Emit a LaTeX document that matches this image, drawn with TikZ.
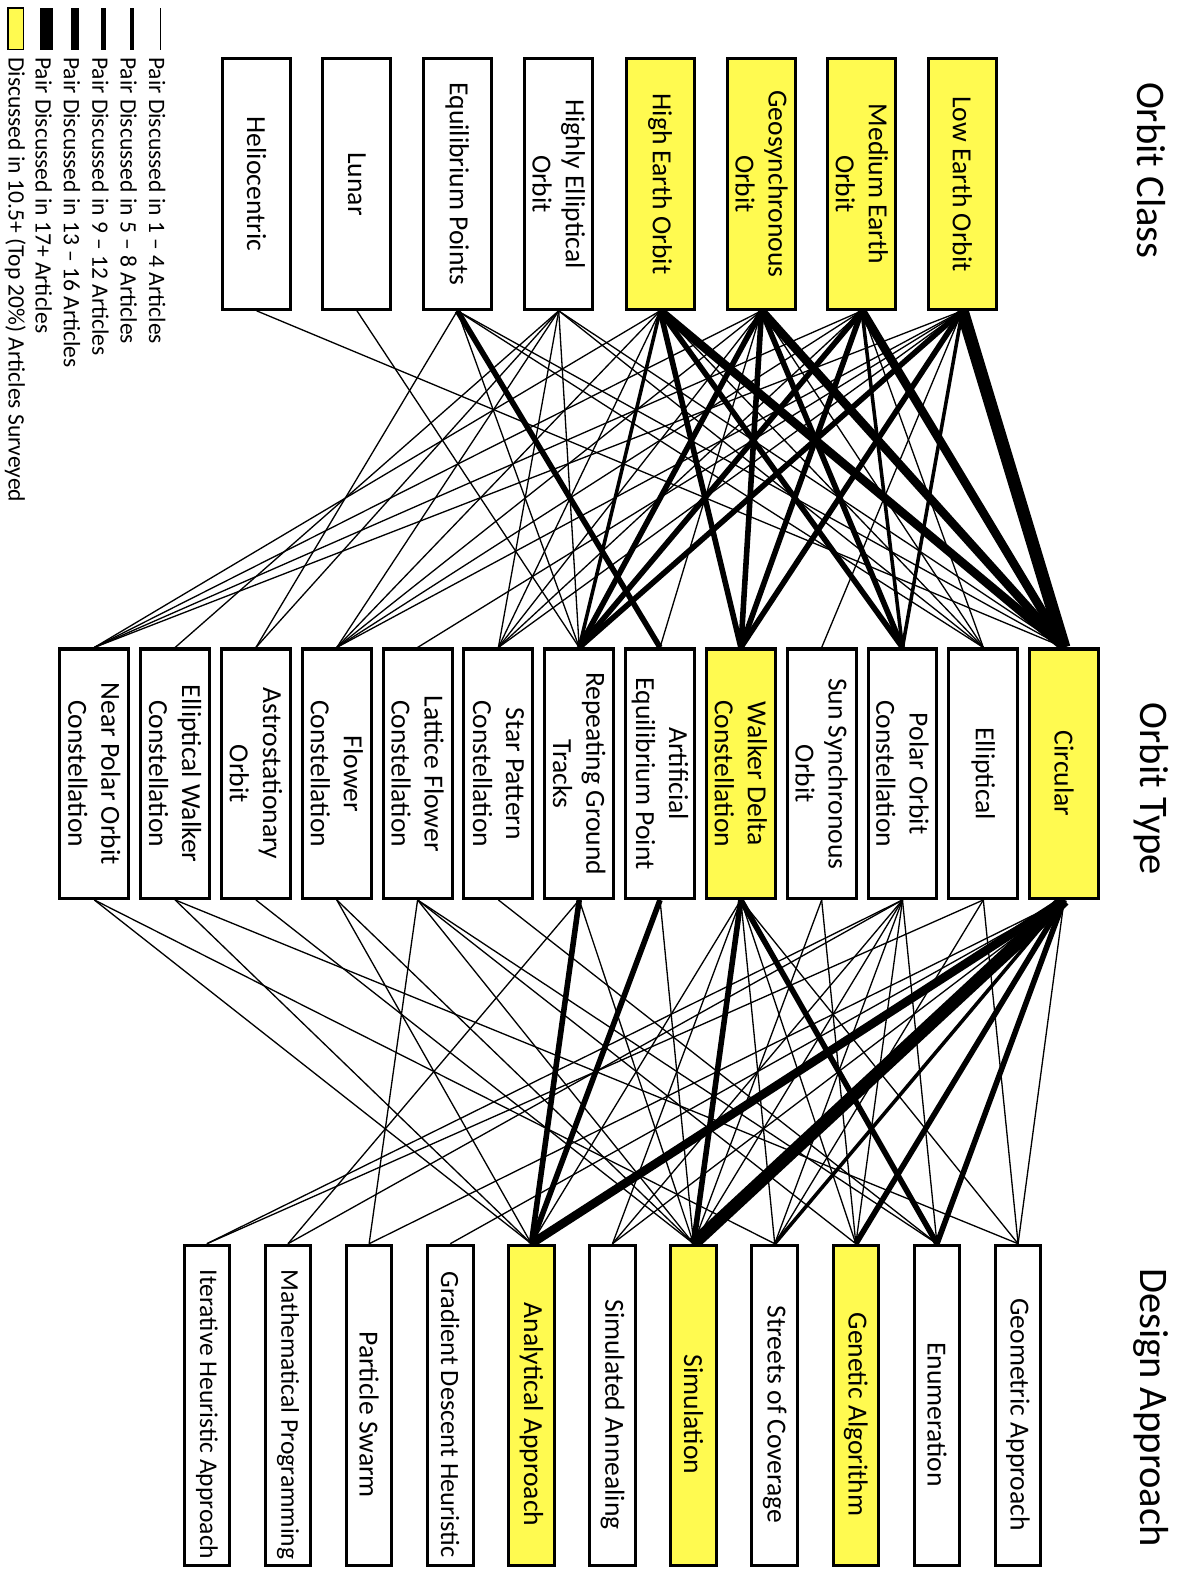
\documentclass[tikz,border=0pt]{standalone}
\usepackage{fontspec}
\setmainfont{Carlito}
\usetikzlibrary{positioning,backgrounds}
\definecolor{hiyellow}{RGB}{255,250,80}

\tikzset{
  box/.style={draw=black, line width=1.5pt, fill=white, rotate=-90, inner sep=0pt,
              align=center, font=\fontsize{13.6}{16.3}\selectfont},
  classbox/.style={box, minimum width=123.5pt, minimum height=33.5pt},
  typebox/.style={box, minimum width=123pt, minimum height=34pt},
  designbox/.style={box, minimum width=158pt, minimum height=22.5pt,
                    execute at begin node={\hspace*{9pt}}},
  longname/.style={font=\fontsize{12.6}{15}\selectfont},
  surveyed/.style={fill=hiyellow},
  heading/.style={rotate=-90, font=\fontsize{20}{24}\selectfont},
  legendtext/.style={rotate=-90, anchor=west, inner sep=0pt, font=\fontsize{11.6}{13}\selectfont},
  pairone/.style={line width=0.65pt},
  pairfive/.style={line width=1.75pt},
  pairnine/.style={line width=2.75pt},
  pairthirteen/.style={line width=4.25pt},
  pairseventeen/.style={line width=6.25pt}
}

\begin{document}
\begin{tikzpicture}[x=0.5pt, y=-0.5pt]
  \useasboundingbox (0,0) rectangle (1169,1568);

  \node[classbox] (helio) at (253,181.5) {Heliocentric};
  \node[classbox] (lunar) at (352,181.5) {Lunar};
  \node[classbox] (equil) at (451,181.5) {Equilibrium Points};
  \node[classbox] (hieo) at (551,181.5) {Highly Elliptical\\Orbit};
  \node[classbox, surveyed] (high) at (651,181.5) {High Earth Orbit};
  \node[classbox, surveyed] (geo) at (751,181.5) {Geosynchronous\\Orbit};
  \node[classbox, surveyed] (meo) at (850,181.5) {Medium Earth\\Orbit};
  \node[classbox, surveyed] (leo) at (949,181.5) {Low Earth Orbit};

  \node[typebox] (nearpolar) at (93,763) {Near Polar Orbit\\Constellation};
  \node[typebox] (ellwalker) at (172.7,763) {Elliptical Walker\\Constellation};
  \node[typebox] (astro) at (252.4,763) {Astrostationary\\Orbit};
  \node[typebox] (flower) at (332.1,763) {Flower\\Constellation};
  \node[typebox] (lattice) at (411.8,763) {Lattice Flower\\Constellation};
  \node[typebox] (star) at (491.5,763) {Star Pattern\\Constellation};
  \node[typebox] (rgt) at (571.2,763) {Repeating Ground\\Tracks};
  \node[typebox] (artificial) at (650.9,763) {Artificial\\Equilibrium Point};
  \node[typebox, surveyed] (walker) at (730.6,763) {Walker Delta\\Constellation};
  \node[typebox] (sunsync) at (810.3,763) {Sun Synchronous\\Orbit};
  \node[typebox] (polar) at (890,763) {Polar Orbit\\Constellation};
  \node[typebox] (elliptical) at (969.7,763) {Elliptical};
  \node[typebox, surveyed] (circular) at (1049.4,763) {Circular};

  \node[designbox, longname] (iterative) at (204,1386) {Iterative Heuristic Approach};
  \node[designbox, longname] (mathprog) at (284,1386) {Mathematical Programming};
  \node[designbox] (pswarm) at (364,1386) {Particle Swarm};
  \node[designbox, font=\fontsize{13}{15.6}\selectfont] (graddesc) at (444,1386) {Gradient Descent Heuristic};
  \node[designbox, surveyed] (analytic) at (524,1386) {Analytical Approach};
  \node[designbox] (simanneal) at (604,1386) {Simulated Annealing};
  \node[designbox, surveyed] (simulation) at (684,1386) {Simulation};
  \node[designbox] (streets) at (764,1386) {Streets of Coverage};
  \node[designbox, surveyed] (genetic) at (844,1386) {Genetic Algorithm};
  \node[designbox] (enumer) at (924,1386) {Enumeration};
  \node[designbox] (geometric) at (1004,1386) {Geometric Approach};

  \node[heading] (classtitle) at (1135,168) {Orbit Class};
  \node[heading] (typetitle) at (1135,778) {Orbit Type};
  \node[heading] (designtitle) at (1135,1388) {Design Approach};

  \begin{scope}[on background layer]
    \foreach \a/\b in {helio/circular, lunar/rgt, equil/astro, equil/rgt, equil/elliptical, equil/circular,
                       hieo/ellwalker, hieo/astro, hieo/flower, hieo/star, hieo/rgt, hieo/elliptical, hieo/circular,
                       high/nearpolar, high/flower, high/star, high/elliptical,
                       geo/nearpolar, geo/flower, geo/star, geo/artificial, geo/elliptical,
                       meo/nearpolar, meo/flower, meo/star, meo/elliptical,
                       leo/nearpolar, leo/flower, leo/lattice, leo/star, leo/sunsync}
      \draw[pairone] (\a.east) -- (\b.west);
    \foreach \a/\b in {high/rgt, meo/polar, leo/polar}
      \draw[pairfive] (\a.east) -- (\b.west);
    \foreach \a/\b in {equil/artificial, high/walker, high/polar, geo/rgt, geo/walker, geo/polar,
                       meo/rgt, meo/walker, leo/rgt, leo/walker}
      \draw[pairnine] (\a.east) -- (\b.west);
    \foreach \a/\b in {high/circular, geo/circular, meo/circular}
      \draw[pairthirteen] (\a.east) -- (\b.west);
    \draw[pairseventeen] (leo.east) -- (circular.west);

    \foreach \a/\b in {nearpolar/analytic, nearpolar/streets, ellwalker/analytic, ellwalker/geometric,
                       astro/simulation, flower/analytic, flower/simulation,
                       lattice/pswarm, lattice/simulation, lattice/genetic, lattice/enumer, star/enumer,
                       rgt/mathprog, rgt/simulation, artificial/simulation,
                       walker/analytic, walker/simanneal, walker/streets, walker/genetic, walker/geometric,
                       sunsync/simulation, sunsync/genetic,
                       polar/iterative, polar/mathprog, polar/simanneal, polar/simulation, polar/streets,
                       polar/genetic, polar/enumer,
                       elliptical/iterative, elliptical/streets, elliptical/geometric,
                       circular/pswarm, circular/graddesc, circular/simanneal, circular/geometric}
      \draw[pairone] (\a.east) -- (\b.west);
    \draw[pairfive] (circular.east) -- (streets.west);
    \foreach \a/\b in {rgt/analytic, artificial/analytic, walker/simulation, walker/enumer,
                       circular/genetic, circular/enumer}
      \draw[pairnine] (\a.east) -- (\b.west);
    \draw[pairthirteen] (circular.east) -- (analytic.west);
    \draw[pairseventeen] (circular.east) -- (simulation.west);
  \end{scope}

  \draw[pairone] (158,8) -- (158,49);
  \draw[pairfive] (130,8) -- (130,49);
  \draw[pairnine] (102,8) -- (102,49);
  \draw[pairthirteen] (74,8) -- (74,49);
  \draw[pairseventeen] (46,8) -- (46,49);
  \filldraw[fill=hiyellow, draw=black, line width=0.8pt] (8,8) rectangle (23,49);

  \node[legendtext] (legone) at (155,56) {Pair Discussed in 1 – 4 Articles};
  \node[legendtext] (legfive) at (127,56) {Pair Discussed in 5 – 8 Articles};
  \node[legendtext] (legnine) at (99,56) {Pair Discussed in 9 – 12 Articles};
  \node[legendtext] (legthirteen) at (71,56) {Pair Discussed in 13 – 16 Articles};
  \node[legendtext] (legseventeen) at (43,56) {Pair Discussed in 17+ Articles};
  \node[legendtext] (legsurveyed) at (15,56) {Discussed in 10.5+ (Top 20\%) Articles Surveyed};
\end{tikzpicture}
\end{document}
